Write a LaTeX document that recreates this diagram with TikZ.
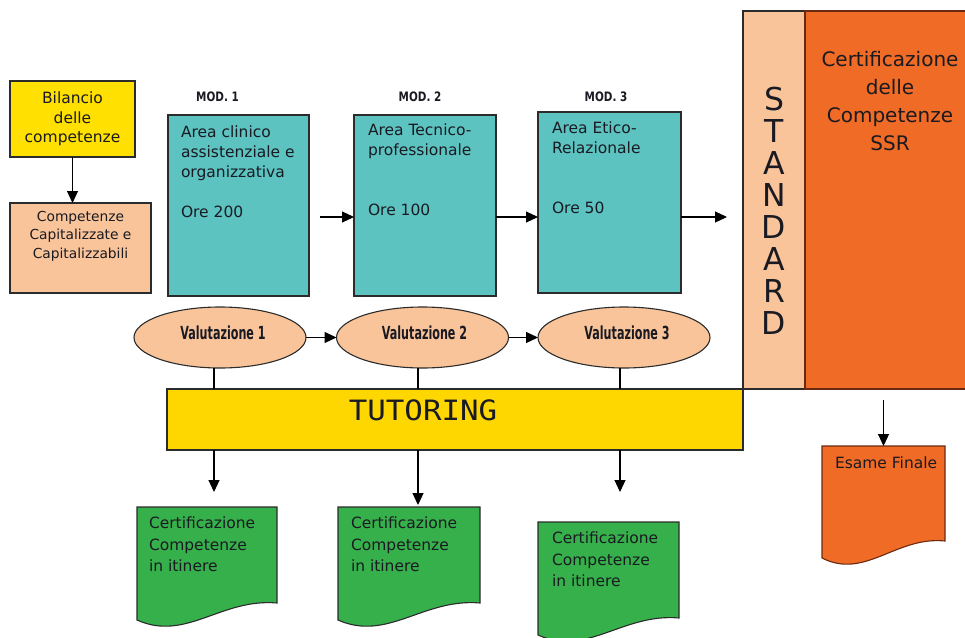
\documentclass[tikz,border=0pt]{standalone}
\usepackage{fontspec}
\setmainfont{DejaVu Sans}
\newfontfamily\modfont[FakeStretch=0.8]{DejaVu Sans}
\newfontfamily\valfont[FakeStretch=0.62]{DejaVu Sans}
\newfontfamily\tutfont[FakeStretch=1.1]{DejaVu Sans Mono}
\usetikzlibrary{arrows.meta,shapes.geometric,calc}

\definecolor{edge}{HTML}{2B2B2B}
\definecolor{brownedge}{HTML}{6B2A10}
\definecolor{inkcol}{HTML}{1A1A22}
\definecolor{bilyellow}{HTML}{FFE000}
\definecolor{tutyellow}{HTML}{FFD700}
\definecolor{peach}{HTML}{F9C49A}
\definecolor{tealfill}{HTML}{5CC3C1}
\definecolor{orangefill}{HTML}{F06B25}
\definecolor{greenfill}{HTML}{36B04A}

% document-shaped box: name, x0, top, width, bottom-left y, fill, border
\newcommand\docshape[7]{%
  \filldraw[line width=1.1pt, draw=#7, fill=#6]
    (#2,#3) -- ({#2+#4},#3) -- ({#2+#4},{#5-17})
    .. controls ({#2+0.6*#4},{#5-22}) and ({#2+0.35*#4},{#5+22}) .. (#2,#5) -- cycle;
  \node[docbody, minimum width=#4pt, minimum height=#5pt-17pt-#3pt] (#1) at (#2,#3) {};
}

\begin{document}
\begin{tikzpicture}[x=1pt,y=-1pt,
  box/.style={draw=edge, line width=1.1pt, inner sep=0pt, outer sep=0pt, anchor=north west},
  docbody/.style={draw=none, inner sep=0pt, outer sep=0pt, anchor=north west},
  txt/.style={inner sep=0pt, outer sep=0pt, text=inkcol},
  bodytxt/.style={txt, align=left, anchor=north west, font=\fontsize{15.5}{20}\selectfont},
  doctxt/.style={txt, align=left, anchor=north west, font=\fontsize{15.5}{21.5}\selectfont},
  modlbl/.style={txt, font=\modfont\bfseries\fontsize{13}{13}\selectfont},
  valtxt/.style={txt, font=\valfont\bfseries\fontsize{18}{18}\selectfont},
  ell/.style={ellipse, draw=edge, line width=1.1pt, fill=peach, minimum width=172pt, minimum height=61pt, inner sep=0pt, outer sep=0pt},
  conn/.style={draw=black, line width=1.1pt},
  arr/.style={conn, -{Triangle[length=12pt, width=11pt]}}
]
\useasboundingbox (0,0) rectangle (965,637);

% left column
\node[box, fill=bilyellow, minimum width=125pt, minimum height=76pt] (bil) at (10,81) {};
\node[txt, align=center, font=\fontsize{15.5}{19.5}\selectfont] (bilt) at (bil.center) {Bilancio\\delle\\competenze};
\node[box, fill=peach, minimum width=141pt, minimum height=90pt] (cap) at (10,203) {};
\node[txt, align=center, anchor=north, font=\fontsize{13.8}{18.5}\selectfont] (capt) at (80.5,211) {Competenze\\Capitalizzate e\\Capitalizzabili};
\draw[arr] (bil.south) -- (bil.south |- cap.north);

% modules
\node[modlbl] (mod1) at (217.5,97) {MOD. 1};
\node[modlbl] (mod2) at (420,97) {MOD. 2};
\node[modlbl] (mod3) at (606,97) {MOD. 3};

\node[box, fill=tealfill, minimum width=141pt, minimum height=181pt] (m1) at (168,115) {};
\node[box, fill=tealfill, minimum width=142pt, minimum height=181pt] (m2) at (354,115) {};
\node[box, fill=tealfill, minimum width=143pt, minimum height=181pt] (m3) at (538,112) {};
\node[bodytxt] (m1t) at (181,126) {Area clinico\\assistenziale e\\organizzativa\\[20pt]Ore 200};
\node[bodytxt] (m2t) at (368,124) {Area Tecnico-\\professionale\\[40pt]Ore 100};
\node[bodytxt] (m3t) at (552,122) {Area Etico-\\Relazionale\\[40pt]Ore 50};

% standard and final certification
\node[box, fill=peach, minimum width=62pt, minimum height=378pt] (std) at (743,11) {};
\node[box, draw=brownedge, fill=orangefill, minimum width=175pt, minimum height=378pt] (cert) at (805,11) {};
\node[txt, align=center, anchor=north, font=\fontsize{31.5}{32}\selectfont] (stdt) at (774,87) {S\\T\\A\\N\\D\\A\\R\\D};
\node[txt, align=center, anchor=north, font=\fontsize{20}{28}\selectfont] (certt) at (890,51) {Certificazione\\delle\\Competenze\\SSR};

\coordinate (a1) at ([yshift=-11.5pt]m1.east);
\coordinate (a2) at ([yshift=-11.5pt]m2.east);
\coordinate (a3) at ([yshift=-14.5pt]m3.east);
\draw[arr, shorten <=11pt] (a1) -- (a1 -| m2.west);
\draw[arr] (a2) -- (a2 -| m3.west);
\draw[arr, shorten >=16pt] (a3) -- (a3 -| std.west);

% evaluations
\node[ell] (v1) at (220,337.5) {};
\node[ell] (v2) at (422.5,337.5) {};
\node[ell] (v3) at (624,337.5) {};
\node[valtxt] (v1t) at ($(v1.center)+(3,-4.5)$) {Valutazione 1};
\node[valtxt] (v2t) at ($(v2.center)+(2,-4.5)$) {Valutazione 2};
\node[valtxt] (v3t) at ($(v3.center)+(3,-4.5)$) {Valutazione 3};
\draw[arr] (v1) -- (v2);
\draw[arr] (v2) -- (v3);

% tutoring bar
\node[box, fill=tutyellow, minimum width=576pt, minimum height=61pt] (tut) at (167,389) {};
\node[txt, font=\tutfont\fontsize{28}{28}\selectfont] (tutt) at (423,410) {TUTORING};

\coordinate (x1) at (214,0);
\coordinate (x2) at (418,0);
\coordinate (x3) at (620,0);
\draw[conn] (v1.south -| x1) -- (tut.north -| x1);
\draw[conn] (v2.south -| x2) -- (tut.north -| x2);
\draw[conn] (v3.south -| x3) -- (tut.north -| x3);

% in-progress certificates
\docshape{g1}{137}{507}{140}{620}{greenfill}{edge}
\docshape{g2}{338}{507}{142}{620}{greenfill}{edge}
\docshape{g3}{538}{522}{141}{635}{greenfill}{edge}
\node[doctxt] (g1t) at (149,517) {Certificazione\\Competenze\\in itinere};
\node[doctxt] (g2t) at (351,517) {Certificazione\\Competenze\\in itinere};
\node[doctxt] (g3t) at (552,532) {Certificazione\\Competenze\\in itinere};
\draw[arr, shorten >=15pt] (tut.south -| x1) -- (g1.north -| x1);
\draw[arr, shorten >=2pt] (tut.south -| x2) -- (g2.north -| x2);
\draw[arr, shorten >=30pt] (tut.south -| x3) -- (g3.north -| x3);

% final exam
\docshape{esame}{822}{446}{123}{558}{orangefill}{brownedge}
\node[doctxt] (esamet) at (835,457) {Esame Finale};
\draw[arr, shorten <=11pt] (esame.north |- cert.south) -- (esame.north);
\end{tikzpicture}
\end{document}
